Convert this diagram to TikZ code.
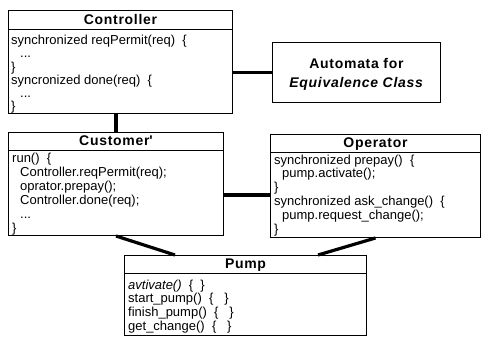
\documentclass[tikz,border=0pt]{standalone}
\usepackage{fontspec}
\setmainfont{Liberation Sans}
\newfontfamily\ttlfont{Liberation Sans}[LetterSpace=5]
\begin{document}
\begin{tikzpicture}[x=1pt,y=-1pt,
  cls/.style 2 args={draw,line width=1pt,minimum width=#1,minimum height=#2,anchor=north west,inner sep=0pt},
  ttl/.style={font=\fontsize{14}{14}\ttlfont\bfseries,text depth=0pt,inner sep=0pt},
  code/.style={anchor=north west,align=left,inner sep=0pt,font=\fontsize{13}{#1}\selectfont},
  link/.style={line width=3.2pt}]
\useasboundingbox (0,0) rectangle (483,338);
\node[cls={224pt}{103pt}] (ctrl) at (8,10) {};
\node[cls={168pt}{60pt}] (auto) at (272,42) {};
\node[cls={215pt}{103pt}] (cust) at (8,132) {};
\node[cls={210pt}{103pt}] (oper) at (270,134) {};
\node[cls={242pt}{80pt}] (pump) at (124,255) {};
\draw[line width=1pt] ([yshift=-19pt]ctrl.north west) -- ([yshift=-19pt]ctrl.north east);
\draw[line width=1pt] ([yshift=-18pt]cust.north west) -- ([yshift=-18pt]cust.north east);
\draw[line width=1pt] ([yshift=-18pt]oper.north west) -- ([yshift=-18pt]oper.north east);
\draw[line width=1pt] ([yshift=-18pt]pump.north west) -- ([yshift=-18pt]pump.north east);
\node[ttl] (ctrlT) at ([yshift=-9.5pt]ctrl.north) {Controller};
\node[ttl] (custT) at ([yshift=-9pt]cust.north) {Customer\textquotesingle};
\node[ttl] (operT) at ([yshift=-9pt]oper.north) {Operator};
\node[ttl] (pumpT) at ([yshift=-9pt]pump.north) {Pump};
\node[ttl,align=center,font=\fontsize{14}{19}\ttlfont\bfseries] (autoT) at (auto.center) {Automata for\\\textit{Equivalence Class}};
\node[code=13.2] (ctrlB) at (11,35) {synchronized reqPermit(req)\ \ \{\\
\hspace*{9pt}...\\
\}\\
syncronized done(req)\ \ \{\\
\hspace*{9pt}...\\
\}};
\node[code=14] (custB) at (12,152.5) {run()\ \ \{\\
\hspace*{8pt}Controller.reqPermit(req);\\
\hspace*{8pt}oprator.prepay();\\
\hspace*{8pt}Controller.done(req);\\
\hspace*{8pt}...\\
\}};
\node[code=13.8] (operB) at (274,154.5) {synchronized prepay()\ \ \{\\
\hspace*{8pt}pump.activate();\\
\}\\
synchronized ask\_change()\ \ \{\\
\hspace*{8pt}pump.request\_change();\\
\}};
\node[code=13.7] (pumpB) at (128,279.5) {\textit{avtivate()}\ \ \{\ \ \}\\
start\_pump()\ \ \{\ \ \ \}\\
finish\_pump()\ \ \{\ \ \ \}\\
get\_change()\ \ \{\ \ \ \}};
\draw[link] (auto.west) -- (auto.west -| ctrl.east);
\draw[link] (cust.north) -- (cust.north |- ctrl.south);
\draw[link] ([yshift=-63pt]cust.north east) -- ([yshift=-63pt]cust.north east -| oper.west);
\draw[link] (cust.south) -- ([xshift=51pt]pump.north west);
\draw[link] (oper.south) -- ([xshift=-49pt]pump.north east);
\end{tikzpicture}
\end{document}
